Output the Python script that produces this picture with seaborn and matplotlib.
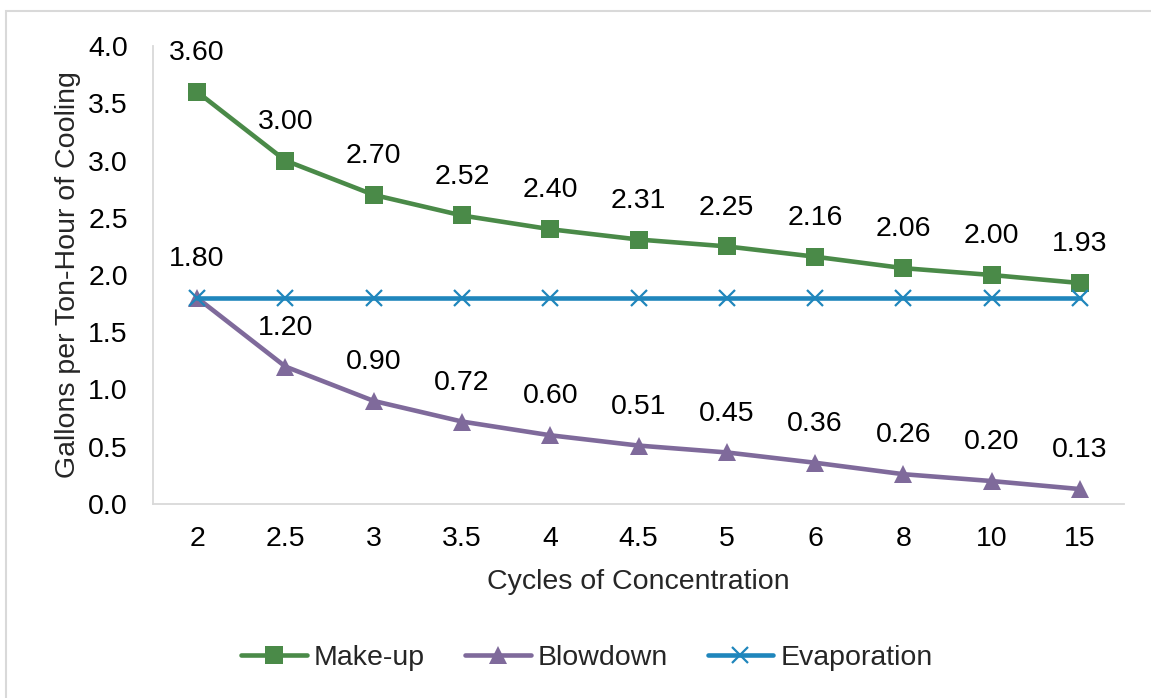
import matplotlib
matplotlib.use("Agg")
import matplotlib.pyplot as plt
import seaborn as sns
import pandas as pd
from matplotlib.patches import Rectangle

cycles = ["2", "2.5", "3", "3.5", "4", "4.5", "5", "6", "8", "10", "15"]
makeup = [3.60, 3.00, 2.70, 2.52, 2.40, 2.31, 2.25, 2.16, 2.06, 2.00, 1.93]
blowdown = [1.80, 1.20, 0.90, 0.72, 0.60, 0.51, 0.45, 0.36, 0.26, 0.20, 0.13]
evaporation = [1.80] * 11
series_names = ["Make-up", "Blowdown", "Evaporation"]

sns.set_theme(style="white")
plt.rcParams["font.family"] = ["Liberation Sans", "DejaVu Sans"]
FS = 20.5

fig = plt.figure(figsize=(11.51, 6.98), dpi=100)
ax = fig.add_axes([0.1329, 0.278, 0.9766 - 0.1329, 0.934 - 0.278])

rows = []
for name, vals in zip(series_names, [makeup, blowdown, evaporation]):
    for i, (c, v) in enumerate(zip(cycles, vals)):
        rows.append({"idx": i, "cycle": c, "value": v, "series": name})
df = pd.DataFrame(rows)

colors = {"Make-up": "#4a8a48", "Blowdown": "#7f6a9b", "Evaporation": "#1f86bc"}
markers = {"Make-up": "s", "Blowdown": "^", "Evaporation": "x"}
zorders = {"Make-up": 3, "Blowdown": 3, "Evaporation": 5}

for name in series_names:
    d = df[df.series == name]
    sns.lineplot(data=d, x="idx", y="value", ax=ax, color=colors[name],
                 marker=markers[name], markersize=13 if name != "Evaporation" else 12,
                 markeredgewidth=0 if name != "Evaporation" else 1.6,
                 markeredgecolor=colors[name],
                 linewidth=3.3, label=name, zorder=zorders[name])

for name, vals in [("Make-up", makeup), ("Blowdown", blowdown)]:
    for i, v in enumerate(vals):
        ax.annotate(f"{v:.2f}", (i, v), xytext=(0, 28), textcoords="offset points",
                    ha="center", va="center", fontsize=FS, color="#000000")

ax.set_xlim(-0.5, len(cycles) - 0.5)
ax.set_ylim(0, 4.0)
ax.set_yticks([0, 0.5, 1.0, 1.5, 2.0, 2.5, 3.0, 3.5, 4.0])
ax.set_yticklabels([f"{t:.1f}" for t in ax.get_yticks()], fontsize=FS)
ax.set_xticks(range(len(cycles)))
ax.set_xticklabels(cycles, fontsize=FS)
ax.tick_params(axis="both", length=0, colors="#000000")
ax.tick_params(axis="x", pad=16)
ax.tick_params(axis="y", pad=18)
ax.set_xlabel("Cycles of Concentration", fontsize=FS, labelpad=12)
ax.set_ylabel("Gallons per Ton-Hour of Cooling", fontsize=FS, labelpad=5)
for s in ["top", "right"]:
    ax.spines[s].set_visible(False)
for s in ["left", "bottom"]:
    ax.spines[s].set_color("#d9d9d9")
    ax.spines[s].set_linewidth(1.3)

leg = ax.legend(loc="center", bbox_to_anchor=(0.51, 0.0575), bbox_transform=fig.transFigure,
                ncol=3, frameon=False, fontsize=FS, handlelength=2.3, columnspacing=1.4,
                handletextpad=0.25)

fig.patches.append(Rectangle((6 / 1151, -0.05), 1.2, 1.05 - 11 / 698, transform=fig.transFigure,
                             fill=False, edgecolor="#d9d9d9", linewidth=1.5))

fig.savefig("out.png", dpi=100)
